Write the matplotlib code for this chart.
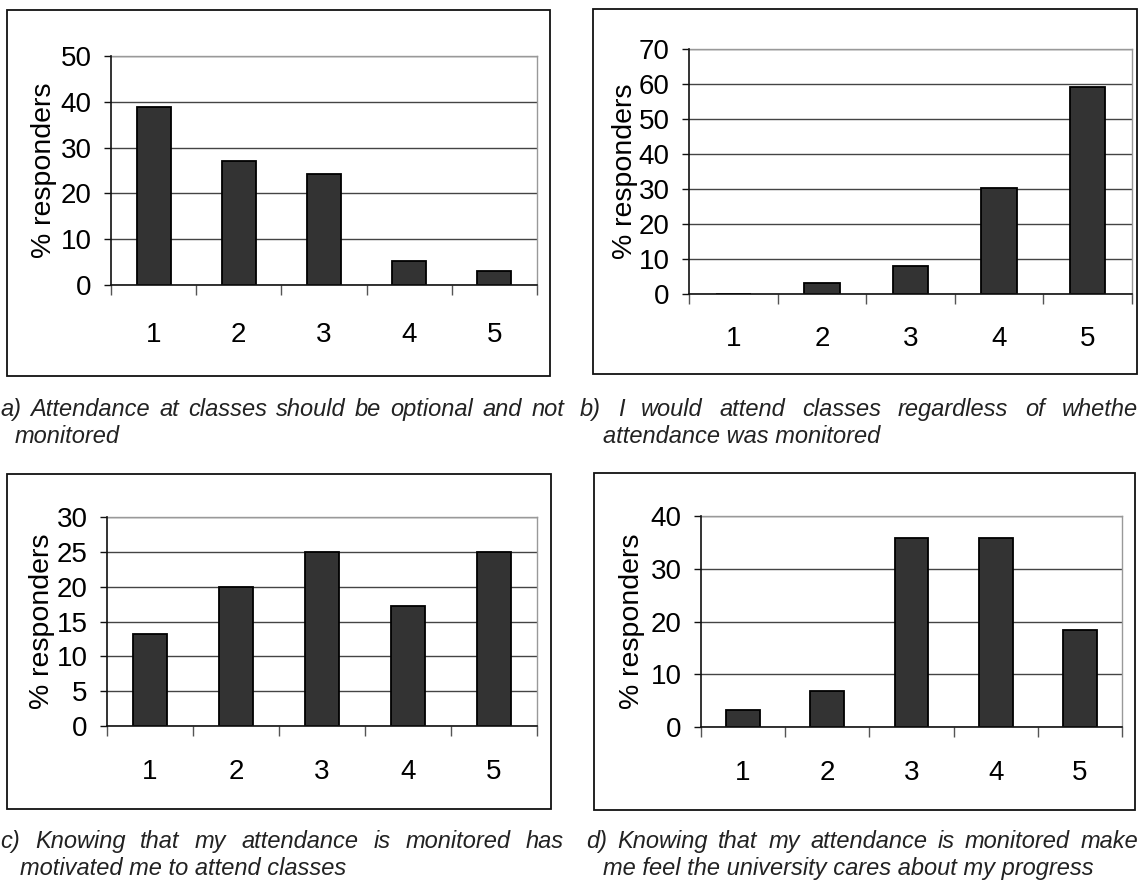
import matplotlib
matplotlib.use("Agg")
import matplotlib.pyplot as plt
from matplotlib.patches import Rectangle
import numpy as np

# ---------------- data ----------------
categories = [1, 2, 3, 4, 5]
vals_a = [38.8, 27.1, 24.3, 5.3, 3.1]
vals_b = [0.0, 3.1, 8.1, 30.2, 59.0]
vals_c = [13.2, 20.0, 25.0, 17.2, 25.0]
vals_d = [3.2, 6.9, 35.9, 35.9, 18.3]
yticks_a = [0, 10, 20, 30, 40, 50]
yticks_b = [0, 10, 20, 30, 40, 50, 60, 70]
yticks_c = [0, 5, 10, 15, 20, 25, 30]
yticks_d = [0, 10, 20, 30, 40]
y_label = "% responders"
cap_a = ["a) Attendance at classes should be optional and not", "monitored"]
cap_b = ["b) I would attend classes regardless of whethe", "attendance was monitored"]
cap_c = ["c) Knowing that my attendance is monitored has", "motivated me to attend classes"]
cap_d = ["d)  Knowing that my attendance is monitored make", "me feel the university cares about my progress"]

W, H = 1138, 880
fig = plt.figure(figsize=(W / 100, H / 100), dpi=100)
fig.patch.set_facecolor("white")

TICK_FONT = ["Liberation Sans Narrow", "Liberation Sans", "DejaVu Sans"]


def fx(x):
    return x / W


def fy(y):
    return 1 - y / H


panels = [
    # values, yticks, axes (l, r, t, b) px, box (l, r, t, b) px, ylabel x px, xlabel pad
    (vals_a, yticks_a, (111, 537, 56, 285), (7, 550, 10, 376), 44, 27.0),
    (vals_b, yticks_b, (689, 1132, 49, 294), (593, 1137, 9, 374), 625, 22.7),
    (vals_c, yticks_c, (107, 537, 517, 726), (7, 551, 474, 809), 42, 24.1),
    (vals_d, yticks_d, (701, 1122, 516, 727), (594, 1135, 473, 810), 632, 24.1),
]

for vals, yt, (l, r, t, b), (bl, br, bt, bb), ylx, xpad in panels:
    # outer frame
    fig.add_artist(Rectangle((fx(bl), fy(bb)), fx(br - bl), (bb - bt) / H,
                             transform=fig.transFigure, fill=False,
                             edgecolor="#111111", linewidth=1.3, zorder=0))
    ax = fig.add_axes([fx(l), fy(b), fx(r - l), (b - t) / H])
    ax.bar(categories, vals, width=0.4, color="#333333", edgecolor="#000000",
           linewidth=1.3, zorder=3)
    ax.set_xlim(0.5, 5.5)
    ax.set_ylim(yt[0], yt[-1])
    ax.set_yticks(yt)
    ax.set_yticklabels([str(v) for v in yt], fontfamily=TICK_FONT, fontsize=20)
    ax.set_xticks(np.arange(0.5, 6.0, 1.0))
    ax.set_xticklabels([])
    ax.set_xticks(categories, minor=True)
    ax.set_xticklabels([str(c) for c in categories], minor=True,
                       fontfamily=TICK_FONT, fontsize=20)
    ax.tick_params(axis="x", which="major", length=7, width=1.0, color="#555555",
                   direction="out")
    ax.tick_params(axis="x", which="minor", length=0, pad=xpad)
    ax.tick_params(axis="y", length=5, width=1.0, color="#111111", pad=9)
    ax.yaxis.grid(True, color="#444444", linewidth=1.0, zorder=1)
    ax.set_axisbelow(True)
    for s in ("left", "bottom"):
        ax.spines[s].set_color("#111111")
        ax.spines[s].set_linewidth(1.2)
        ax.spines[s].set_zorder(4)
    for s in ("top", "right"):
        ax.spines[s].set_color("#999999")
        ax.spines[s].set_linewidth(1.0)
    ax.set_ylabel(y_label, fontfamily="Liberation Sans", fontsize=20.5)
    ax.yaxis.label.set_va("center")
    ax.yaxis.set_label_coords((ylx - l) / (r - l), 0.5)

# ---------------- captions (justified first line) ----------------
cap_kw = dict(fontfamily="Liberation Sans", fontstyle="italic", fontsize=17,
              color="#222222", va="baseline", ha="left")

captions = [
    (cap_a, 0, 564, 416, 15),
    (cap_b, 580, 1138, 416, 603),
    (cap_c, 0, 564, 848, 20),
    (cap_d, 586, 1138, 848, 603),
]

fig.canvas.draw()
renderer = fig.canvas.get_renderer()
for (line1, line2), xl, xr, yb, x2 in captions:
    words = line1.split()
    texts = [fig.text(fx(xl), fy(yb), w, **cap_kw) for w in words]
    widths = [tx.get_window_extent(renderer).width for tx in texts]
    gap = (xr - xl - sum(widths)) / (len(words) - 1)
    x = xl
    for tx, wd in zip(texts, widths):
        tx.set_x(fx(x))
        x += wd + gap
    fig.text(fx(x2), fy(yb + 27), line2, **cap_kw)

fig.savefig("out.png", dpi=100)
